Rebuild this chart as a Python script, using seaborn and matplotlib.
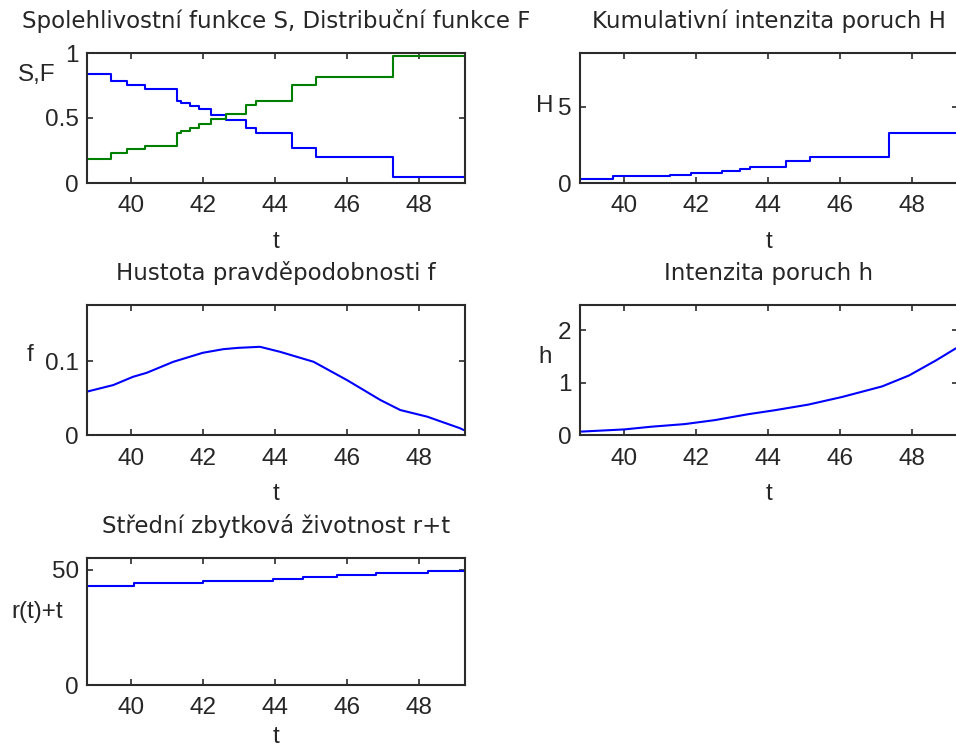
import matplotlib

matplotlib.use("Agg")
import matplotlib.pyplot as plt
import seaborn as sns

sns.set_style("ticks")
plt.rcParams["font.family"] = ["Liberation Sans", "DejaVu Sans"]
plt.rcParams["xtick.direction"] = "in"
plt.rcParams["ytick.direction"] = "in"

T_MIN, T_MAX = 38.78, 49.29

# spolehlivost S a distribucni funkce F (schody)
t_sf = [38.78, 39.45, 39.88, 40.39, 41.28, 41.40, 41.63, 41.89, 42.23, 42.65, 43.20, 43.48, 44.47, 45.15, 47.30, 49.29]
S = [0.838, 0.784, 0.755, 0.724, 0.631, 0.613, 0.595, 0.570, 0.523, 0.485, 0.420, 0.384, 0.266, 0.201, 0.046, 0.046]
F = [0.183, 0.227, 0.260, 0.286, 0.382, 0.402, 0.420, 0.454, 0.492, 0.531, 0.600, 0.632, 0.755, 0.819, 0.974, 0.974]

# kumulativni intenzita H (schody)
t_H = [38.78, 39.69, 41.28, 41.88, 42.72, 43.23, 43.50, 44.50, 45.18, 47.36, 49.29]
H = [0.28, 0.43, 0.54, 0.65, 0.80, 0.95, 1.08, 1.45, 1.72, 3.26, 3.26]

# hustota f
t_f = [38.77, 39.51, 40.06, 40.44, 41.18, 42.00, 42.57, 42.99, 43.59, 44.15, 45.08, 46.01, 46.94, 47.49, 48.24, 49.16, 49.25]
f = [0.0586, 0.0676, 0.0788, 0.0842, 0.0991, 0.1113, 0.1162, 0.1180, 0.1194, 0.1126, 0.0991, 0.0743, 0.0473, 0.0338, 0.0248, 0.0090, 0.0068]

# intenzita poruch h
t_h = [38.76, 40.02, 40.76, 41.69, 42.53, 43.46, 44.20, 45.13, 46.07, 47.18, 47.93, 48.67, 49.23]
h = [0.063, 0.107, 0.158, 0.208, 0.284, 0.397, 0.473, 0.580, 0.726, 0.927, 1.136, 1.420, 1.653]

# stredni zbytkova zivotnost r+t (schody)
t_r = [38.78, 40.09, 42.00, 43.95, 44.79, 45.72, 46.82, 48.25, 49.29]
r = [43.2, 44.2, 45.2, 46.1, 47.0, 47.8, 48.7, 49.7, 49.7]

TICK_FS = 17.5
TITLE_FS = 16.5
FRAME = "#2b2b2b"
TEXT = "#262626"

fig = plt.figure(figsize=(9.56, 7.53), dpi=100)
W, Hh = 956, 753


def make_ax(left, top, bottom, width=378):
    return fig.add_axes([left / W, 1 - bottom / Hh, width / W, (bottom - top) / Hh])


ax1 = make_ax(87, 53, 183)
ax2 = make_ax(580, 53, 183)
ax3 = make_ax(87, 305, 435)
ax4 = make_ax(580, 305, 435)
ax5 = make_ax(87, 558, 685)

lw = 1.5
sns.lineplot(x=t_sf, y=S, ax=ax1, color="#0000ff", lw=lw, drawstyle="steps-post")
sns.lineplot(x=t_sf, y=F, ax=ax1, color="#008000", lw=lw, drawstyle="steps-post")
sns.lineplot(x=t_H, y=H, ax=ax2, color="#0000ff", lw=lw, drawstyle="steps-post")
sns.lineplot(x=t_f, y=f, ax=ax3, color="#0000ff", lw=lw)
sns.lineplot(x=t_h, y=h, ax=ax4, color="#0000ff", lw=lw)
sns.lineplot(x=t_r, y=r, ax=ax5, color="#0000ff", lw=lw, drawstyle="steps-post")

setup = [
    (ax1, (0, 1), [0, 0.5, 1], ["0", "0.5", "1"], "Spolehlivostní funkce S, Distribuční funkce F", "S,F", (-0.132, 0.83)),
    (ax2, (0, 8.55), [0, 5], ["0", "5"], "Kumulativní intenzita poruch H", "H", (-0.093, 0.59)),
    (ax3, (0, 0.176), [0, 0.1], ["0", "0.1"], "Hustota pravděpodobnosti f", "f", (-0.15, 0.615)),
    (ax4, (0, 2.48), [0, 1, 2], ["0", "1", "2"], "Intenzita poruch h", "h", (-0.093, 0.60)),
    (ax5, (0, 55.2), [0, 50], ["0", "50"], "Střední zbytková životnost r+t", "r(t)+t", (-0.132, 0.575)),
]

for ax, ylim, yticks, ylabels, title, ylab, ylab_pos in setup:
    ax.set_xlim(T_MIN, T_MAX)
    ax.set_ylim(*ylim)
    ax.set_xticks([40, 42, 44, 46, 48])
    ax.set_yticks(yticks)
    ax.set_yticklabels(ylabels)
    ax.tick_params(axis="both", which="both", direction="in", length=4, width=1.2,
                   top=True, right=True, labelsize=TICK_FS, colors=FRAME, labelcolor=TEXT)
    ax.tick_params(axis="x", pad=9)
    ax.tick_params(axis="y", pad=6)
    for sp in ax.spines.values():
        sp.set_visible(True)
        sp.set_color(FRAME)
        sp.set_linewidth(1.5)
    ax.set_title(title, fontsize=TITLE_FS, pad=18, color=TEXT, family=["DejaVu Sans"])
    ax.set_xlabel("t", fontsize=TICK_FS, color=TEXT, labelpad=10 if ax is not ax5 else 5)
    ax.set_ylabel(ylab, fontsize=TICK_FS, rotation=0, color=TEXT, ha="center", va="center")
    ax.yaxis.set_label_coords(*ylab_pos)

fig.savefig("out.png", dpi=100)
